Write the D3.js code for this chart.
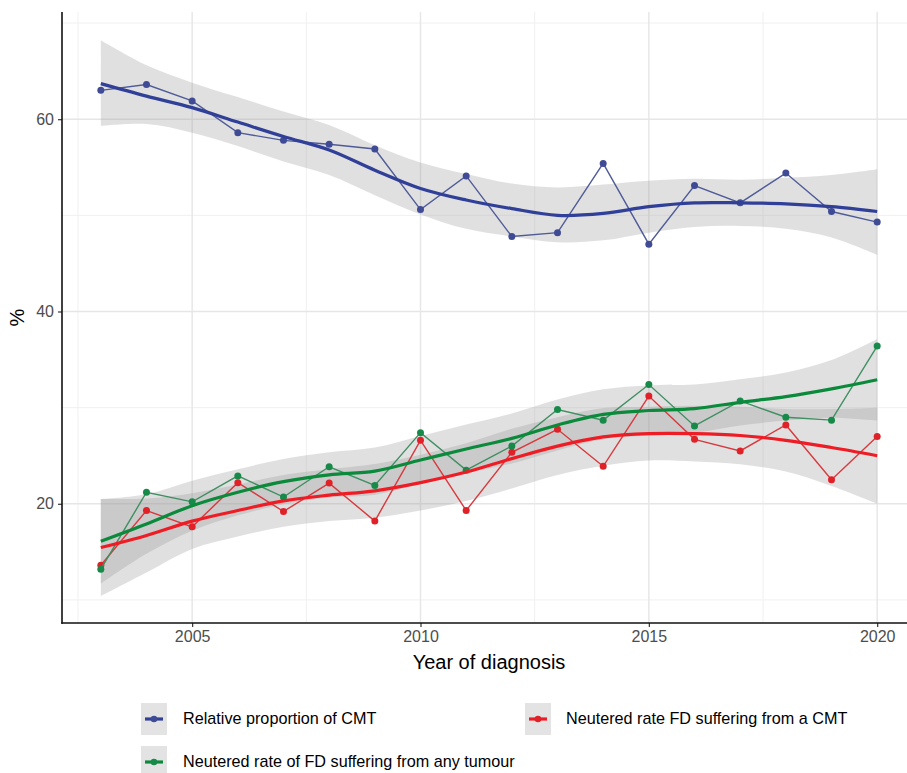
<!DOCTYPE html>
<html>
<head>
<meta charset="utf-8">
<script src="https://cdn.jsdelivr.net/npm/d3@7"></script>
<style>
  html, body { margin: 0; padding: 0; background: #fff; }
  svg { display: block; font-family: "Liberation Sans", Arial, sans-serif; }
</style>
</head>
<body>
<svg id="chart" width="907" height="773"></svg>
<script>
// ---------------- data ----------------
const years = [2003, 2004, 2005, 2006, 2007, 2008, 2009, 2010, 2011, 2012, 2013, 2014, 2015, 2016, 2017, 2018, 2019, 2020];

// Relative proportion of CMT
const cmtProportion = [63.0, 63.6, 61.9, 58.6, 57.8, 57.4, 56.9, 50.6, 54.1, 47.8, 48.2, 55.4, 47.0, 53.1, 51.3, 54.4, 50.4, 49.3];
const cmtFit        = [63.7, 62.4, 61.2, 59.7, 58.2, 56.8, 54.7, 52.8, 51.6, 50.7, 50.0, 50.2, 50.9, 51.3, 51.3, 51.2, 50.9, 50.4];
const cmtLower      = [59.3, 59.5, 58.6, 57.2, 55.6, 54.2, 52.1, 50.1, 48.6, 47.8, 47.2, 47.4, 48.2, 48.8, 48.9, 48.6, 47.7, 45.9];
const cmtUpper      = [68.2, 65.6, 63.8, 62.3, 60.8, 59.4, 57.3, 55.5, 54.3, 53.3, 52.9, 53.2, 53.6, 53.8, 53.7, 53.9, 54.2, 54.8];

// Neutered rate FD suffering from a CMT
const neuteredCMT      = [13.6, 19.3, 17.6, 22.2, 19.2, 22.15, 18.2, 26.6, 19.3, 25.35, 27.75, 23.9, 31.2, 26.7, 25.5, 28.2, 22.5, 27.0];
const neuteredCMTFit   = [15.45, 16.7, 18.2, 19.3, 20.3, 20.9, 21.35, 22.2, 23.3, 24.7, 26.0, 26.95, 27.3, 27.3, 27.1, 26.6, 25.85, 25.0];
const neuteredCMTLower = [10.4, 12.85, 15.3, 16.6, 17.6, 18.2, 18.55, 19.3, 20.3, 21.6, 23.0, 23.95, 24.5, 24.4, 24.1, 23.35, 21.85, 20.0];
const neuteredCMTUpper = [20.5, 20.55, 21.1, 22.0, 23.0, 23.6, 24.15, 25.1, 26.3, 27.8, 29.0, 29.95, 30.1, 30.2, 30.1, 29.85, 29.85, 30.0];

// Neutered rate of FD suffering from any tumour
const neuteredAny      = [13.2, 21.2, 20.2, 22.9, 20.7, 23.85, 21.9, 27.4, 23.5, 26.0, 29.8, 28.7, 32.4, 28.1, 30.7, 29.0, 28.7, 36.4];
const neuteredAnyFit   = [16.1, 17.9, 19.8, 21.2, 22.3, 23.0, 23.4, 24.55, 25.7, 26.8, 28.2, 29.3, 29.7, 29.9, 30.55, 31.15, 31.95, 32.9];
const neuteredAnyLower = [11.7, 14.8, 17.2, 18.8, 19.95, 20.65, 20.95, 22.05, 23.15, 24.2, 25.55, 26.7, 27.1, 27.4, 28.15, 28.65, 28.95, 28.65];
const neuteredAnyUpper = [20.5, 21.0, 22.4, 23.6, 24.65, 25.35, 25.85, 27.05, 28.25, 29.4, 30.85, 31.9, 32.3, 32.4, 32.95, 33.65, 34.95, 37.15];

const xTicks = [2005, 2010, 2015, 2020];
const xMinor = [2002.5, 2007.5, 2012.5, 2017.5];
const yTicks = [20, 40, 60];
const yMinor = [10, 30, 50, 70];

const seriesNames = ["Relative proportion of CMT", "Neutered rate FD suffering from a CMT", "Neutered rate of FD suffering from any tumour"];

// ---------------- layout ----------------
const svg = d3.select("#chart");
const panel = { left: 62, right: 916, top: 12, bottom: 623 };

const x = d3.scaleLinear().domain([2002.15, 2020.85]).range([panel.left, panel.right]);
const y = d3.scaleLinear().domain([7.6, 71.15]).range([panel.bottom, panel.top]);

const series = [
  { name: seriesNames[0], vals: cmtProportion, fit: cmtFit, lo: cmtLower, hi: cmtUpper,
    pt: "#3f4b94", thin: "#4f5b98", thick: "#303f98" },
  { name: seriesNames[1], vals: neuteredCMT, fit: neuteredCMTFit, lo: neuteredCMTLower, hi: neuteredCMTUpper,
    pt: "#e02128", thin: "#d8393e", thick: "#ee1c24" },
  { name: seriesNames[2], vals: neuteredAny, fit: neuteredAnyFit, lo: neuteredAnyLower, hi: neuteredAnyUpper,
    pt: "#178a4a", thin: "#3f8f62", thick: "#0b8a3c" }
];

// grid
const grid = svg.append("g");
grid.selectAll(".xm").data(xMinor).join("line")
  .attr("x1", d => x(d)).attr("x2", d => x(d)).attr("y1", panel.top).attr("y2", panel.bottom)
  .attr("stroke", "#f0f0f0").attr("stroke-width", 1);
grid.selectAll(".ym").data(yMinor).join("line")
  .attr("y1", d => y(d)).attr("y2", d => y(d)).attr("x1", panel.left).attr("x2", panel.right)
  .attr("stroke", "#f0f0f0").attr("stroke-width", 1);
grid.selectAll(".xM").data(xTicks).join("line")
  .attr("x1", d => x(d)).attr("x2", d => x(d)).attr("y1", panel.top).attr("y2", panel.bottom)
  .attr("stroke", "#e6e6e6").attr("stroke-width", 1.4);
grid.selectAll(".yM").data(yTicks).join("line")
  .attr("y1", d => y(d)).attr("y2", d => y(d)).attr("x1", panel.left).attr("x2", panel.right)
  .attr("stroke", "#e6e6e6").attr("stroke-width", 1.4);

const curve = d3.curveCatmullRom.alpha(0.5);

// ribbons
const area = d3.area().curve(curve)
  .x((d, i) => x(years[i]))
  .y0(d => y(d[0])).y1(d => y(d[1]));
series.forEach(s => {
  svg.append("path")
    .datum(s.lo.map((v, i) => [v, s.hi[i]]))
    .attr("d", area)
    .attr("fill", "#999999").attr("fill-opacity", 0.3);
});

// thin lines and points
const thinLine = d3.line().x((d, i) => x(years[i])).y(d => y(d));
series.forEach(s => {
  svg.append("path").datum(s.vals).attr("d", thinLine)
    .attr("fill", "none").attr("stroke", s.thin).attr("stroke-width", 1.4);
  svg.append("g").selectAll("circle").data(s.vals).join("circle")
    .attr("cx", (d, i) => x(years[i])).attr("cy", d => y(d)).attr("r", 3.5)
    .attr("fill", s.pt);
});

// smooth lines (red, green, blue)
const smooth = d3.line().curve(curve).x((d, i) => x(years[i])).y(d => y(d));
[series[1], series[2], series[0]].forEach(s => {
  svg.append("path").datum(s.fit).attr("d", smooth)
    .attr("fill", "none").attr("stroke", s.thick).attr("stroke-width", 3.2)
    .attr("stroke-linecap", "butt");
});

// axes
const xAxis = svg.append("g").attr("transform", `translate(0,${panel.bottom})`)
  .call(d3.axisBottom(x).tickValues(xTicks).tickFormat(d3.format("d")).tickSize(4).tickPadding(4));
const yAxis = svg.append("g").attr("transform", `translate(${panel.left},0)`)
  .call(d3.axisLeft(y).tickValues(yTicks).tickSize(4).tickPadding(4));
[xAxis, yAxis].forEach(a => {
  a.select(".domain").remove();
  a.selectAll(".tick line").attr("stroke", "#333").attr("stroke-width", 1.2);
  a.selectAll(".tick text").attr("fill", "#4d4d4d").style("font-size", "16px")
    .style("font-family", "'Liberation Sans', Arial, sans-serif");
});
svg.append("line").attr("x1", panel.left).attr("x2", panel.left).attr("y1", panel.top).attr("y2", panel.bottom + 0.75)
  .attr("stroke", "#111").attr("stroke-width", 1.6);
svg.append("line").attr("x1", panel.left - 0.75).attr("x2", 907).attr("y1", panel.bottom).attr("y2", panel.bottom)
  .attr("stroke", "#111").attr("stroke-width", 1.6);

// axis titles
svg.append("text").attr("x", (panel.left + panel.right) / 2).attr("y", 669)
  .attr("text-anchor", "middle").style("font-size", "20px").attr("fill", "#000")
  .text("Year of diagnosis");
svg.append("text").attr("transform", `translate(24,${(panel.top + panel.bottom) / 2}) rotate(-90)`)
  .attr("text-anchor", "middle").style("font-size", "20px").attr("fill", "#000")
  .text("%");

// legend
const legendPos = [
  { s: series[0], kx: 141, ky: 703, tx: 183, ty: 724 },
  { s: series[1], kx: 525, ky: 703, tx: 566, ty: 724 },
  { s: series[2], kx: 141, ky: 746, tx: 183, ty: 767 }
];
const lg = svg.append("g");
legendPos.forEach(p => {
  const g = lg.append("g");
  g.append("rect").attr("x", p.kx).attr("y", p.ky).attr("width", 26).attr("height", 32)
    .attr("fill", "#e3e3e3");
  g.append("line").attr("x1", p.kx + 4).attr("x2", p.kx + 22)
    .attr("y1", p.ky + 16).attr("y2", p.ky + 16)
    .attr("stroke", p.s.thick).attr("stroke-width", 3.2);
  g.append("circle").attr("cx", p.kx + 13).attr("cy", p.ky + 16).attr("r", 3.3).attr("fill", p.s.pt);
  g.append("text").attr("x", p.tx).attr("y", p.ty).style("font-size", "16.2px").attr("fill", "#000")
    .text(p.s.name);
});
</script>
</body>
</html>
